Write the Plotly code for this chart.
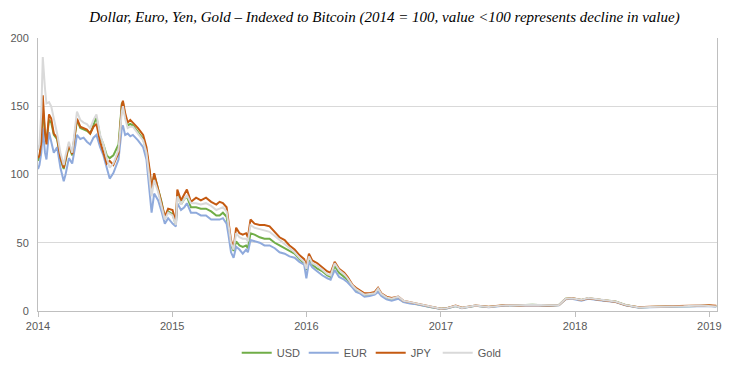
import plotly.graph_objects as go

dates = [
    "2014-01-01", "2014-01-05", "2014-01-10", "2014-01-14", "2014-01-20", "2014-01-24",
    "2014-01-31", "2014-02-06", "2014-02-13", "2014-02-22", "2014-03-03", "2014-03-12",
    "2014-03-17", "2014-03-26", "2014-04-04", "2014-04-13", "2014-04-17", "2014-04-26",
    "2014-05-05", "2014-05-14", "2014-05-23", "2014-06-01", "2014-06-09", "2014-06-19",
    "2014-06-28", "2014-07-07", "2014-07-15", "2014-07-25", "2014-08-08", "2014-08-17",
    "2014-08-20", "2014-08-26", "2014-09-02", "2014-09-09", "2014-09-16", "2014-09-30",
    "2014-10-14", "2014-10-23", "2014-11-01", "2014-11-06", "2014-11-13", "2014-11-24",
    "2014-12-03", "2014-12-12", "2014-12-21",
    "2015-01-02", "2015-01-11", "2015-01-15", "2015-01-25", "2015-02-03", "2015-02-10",
    "2015-02-21", "2015-03-07", "2015-03-20", "2015-04-03", "2015-04-17", "2015-05-01",
    "2015-05-10", "2015-05-19", "2015-05-29", "2015-06-03", "2015-06-10", "2015-06-17",
    "2015-06-24", "2015-07-03", "2015-07-12", "2015-07-21", "2015-07-26", "2015-08-02",
    "2015-08-13", "2015-08-27", "2015-09-09", "2015-09-23", "2015-10-07", "2015-10-20",
    "2015-11-03", "2015-11-16", "2015-11-30", "2015-12-13", "2015-12-26",
    "2016-01-01", "2016-01-08", "2016-01-17", "2016-01-31", "2016-02-14", "2016-02-27",
    "2016-03-07", "2016-03-18", "2016-03-30", "2016-04-13", "2016-04-22", "2016-05-06",
    "2016-05-15", "2016-05-25", "2016-06-07", "2016-06-21", "2016-07-05", "2016-07-14",
    "2016-07-23", "2016-08-06", "2016-08-20", "2016-09-07", "2016-09-21", "2016-10-09",
    "2016-10-27", "2016-11-15", "2016-12-03", "2016-12-21",
    "2017-01-01", "2017-01-17", "2017-02-10", "2017-02-27", "2017-04-05", "2017-05-11",
    "2017-06-26", "2017-08-01", "2017-09-07", "2017-10-22", "2017-11-18", "2017-12-06",
    "2017-12-23",
    "2018-01-18", "2018-02-06", "2018-03-14", "2018-04-21", "2018-05-18", "2018-06-24",
    "2018-07-22", "2018-09-07", "2018-10-23", "2018-12-08", "2019-01-01", "2019-01-20",
]

usd = [
    110, 113, 122, 150, 130, 124, 140, 138, 129, 126, 111, 104,
    110, 121, 114, 134, 140, 134, 133, 132, 130, 136, 142, 128,
    122, 114, 112, 114, 122, 152, 153, 143, 136, 137, 136, 131,
    126, 117, 101, 87, 100, 89, 80, 68, 73,
    71, 63, 85, 78, 82, 84, 76, 76, 75, 75, 73, 70,
    70, 72, 69, 59, 48, 44, 51, 48, 47, 48, 46, 57,
    56, 54, 53, 53, 50, 48, 46, 44, 42, 38, 35,
    30, 38, 34, 31, 29, 26, 25, 33, 28, 25, 23, 18,
    15, 14, 11.5, 12, 13, 15, 12, 9.5, 8.5, 9.5, 7, 6,
    5.2, 4, 3, 2.1,
    1.6, 2, 3.7, 2.2, 3.9, 2.9, 4.3, 4.2, 4.5, 4.1, 4.4, 9, 9.4,
    8.0, 9.4, 8.1, 6.9, 4.4, 2.6, 3.0, 3.2, 3.5, 4.0, 3.9, 3.4,
]

eur = [
    104, 107, 116, 134, 116, 111, 131, 124, 116, 120, 105, 95,
    100, 112, 108, 122, 129, 126, 127, 124, 122, 127, 129, 120,
    114, 105, 97, 101, 111, 134, 136, 129, 130, 128, 129, 125,
    120, 111, 89, 72, 86, 81, 73, 64, 68,
    64, 62, 79, 74, 76, 79, 72, 72, 70, 70, 67, 67,
    67, 68, 64, 56, 43, 39, 47, 45, 42, 45, 43, 52,
    51, 50, 48, 48, 46, 43, 42, 40, 39, 36, 34,
    24, 36, 32, 29, 26, 24, 23, 30, 25, 23, 21, 17,
    14, 13, 10.5, 11, 12, 14, 11, 8.5, 7.5, 9, 6.5, 5.5,
    5, 3.8, 2.9, 2,
    1.5, 1.9, 3.6, 2.1, 3.8, 2.8, 4.1, 4.0, 4.3, 3.9, 4.2, 8.6, 9.0,
    7.6, 9.0, 7.7, 6.5, 4.1, 2.4, 2.8, 3.0, 3.3, 3.8, 3.7, 3.2,
]

jpy = [
    112, 114, 124, 158, 131, 122, 144, 141, 130, 127, 112, 105,
    111, 122, 115, 135, 141, 135, 134, 133, 130, 135, 137, 124,
    116, 108, 110, 107, 116, 151, 154, 145, 138, 140, 138, 134,
    129, 120, 103, 89, 101, 89, 81, 69, 75,
    74, 65, 89, 81, 86, 89, 80, 83, 81, 83, 80, 78,
    80, 79, 76, 64, 52, 46, 61, 57, 56, 57, 54, 67,
    64, 63, 63, 62, 58, 54, 52, 48, 45, 41, 38,
    33, 42, 37, 35, 32, 29, 28, 36, 31, 28, 25, 19,
    17, 15, 13, 13, 14, 17, 13, 10.5, 9.5, 10.5, 7.5, 6.5,
    5.5, 4.3, 3.2, 2.2,
    1.7, 2.1, 4, 2.4, 4.1, 3.1, 4.4, 4.1, 4.4, 4.0, 4.3, 8.8, 9.5,
    8.0, 9.3, 8.0, 6.8, 4.3, 2.7, 3.1, 3.4, 3.9, 4.3, 4.3, 3.8,
]

gold = [
    118, 122, 146, 186, 163, 152, 153, 150, 141, 130, 116, 107,
    114, 124, 116, 138, 146, 140, 138, 137, 134, 140, 144, 129,
    122, 112, 105, 108, 118, 146, 150, 141, 134, 135, 135, 130,
    125, 116, 98, 84, 96, 87, 77, 67, 72,
    70, 63, 84, 78, 82, 85, 79, 79, 78, 79, 77, 74,
    75, 76, 73, 62, 50, 45, 57, 54, 53, 53, 51, 63,
    61, 60, 59, 58, 55, 52, 49, 46, 43, 39, 36,
    31, 40, 35, 33, 30, 27, 26, 35, 30, 27, 24, 18.5,
    16, 14.5, 12, 12.5, 13, 16.5, 12.5, 10, 9, 10.5, 7.5, 6.5,
    5.5, 4.2, 3.2, 2.2,
    1.7, 2.1, 3.8, 2.3, 4.0, 3.0, 4.3, 4.2, 4.6, 4.2, 4.4, 9, 9.3,
    8.2, 9.5, 8.2, 7.0, 4.5, 2.6, 3.0, 3.1, 3.4, 4.0, 3.8, 3.3,
]

series_names = ["USD", "EUR", "JPY", "Gold"]
series_values = [usd, eur, jpy, gold]
series_colors = ["#70AD47", "#8FAADC", "#C55A11", "#D9D9D9"]

year_ticks = ["2014-01-01", "2015-01-01", "2016-01-01", "2017-01-01", "2018-01-01", "2019-01-01"]
year_labels = ["2014", "2015", "2016", "2017", "2018", "2019"]

fig = go.Figure()
for name, vals, col in zip(series_names, series_values, series_colors):
    fig.add_trace(go.Scatter(
        x=dates, y=vals, name=name, mode="lines",
        line=dict(color=col, width=2),
    ))

fig.update_layout(
    width=724, height=366,
    margin=dict(l=30, r=15, t=30, b=63, autoexpand=False),
    paper_bgcolor="white", plot_bgcolor="white",
    title=dict(
        text="<i>Dollar, Euro, Yen, Gold – Indexed to Bitcoin (2014 = 100, value &lt;100 represents decline in value)</i>",
        x=0.52, xanchor="center", y=0.975, yanchor="middle",
        font=dict(family="Liberation Serif", size=15, color="#000000"),
        automargin=False,
    ),
    font=dict(family="Liberation Sans", size=11, color="#595959"),
    showlegend=True,
    legend=dict(
        orientation="h", x=0.49, xanchor="center", y=-0.1, yanchor="top",
        font=dict(family="Liberation Sans", size=11, color="#595959"),
        entrywidth=22, entrywidthmode="pixels", tracegroupgap=0,
    ),
    xaxis=dict(
        type="date", range=["2014-01-01", "2019-01-22"],
        tickvals=year_ticks, ticktext=year_labels,
        showgrid=False, showline=True, linecolor="#BFBFBF", linewidth=1,
        ticks="outside", ticklen=5, tickcolor="#BFBFBF",
        mirror=False, zeroline=False, automargin=False,
    ),
    yaxis=dict(
        range=[0, 200], dtick=50, tick0=0,
        showgrid=True, gridcolor="#D9D9D9", gridwidth=1,
        showline=True, linecolor="#BFBFBF", linewidth=1, mirror=True,
        ticks="", zeroline=False, ticklabelstandoff=6, automargin=False,
    ),
)

fig.write_html("out.html")
